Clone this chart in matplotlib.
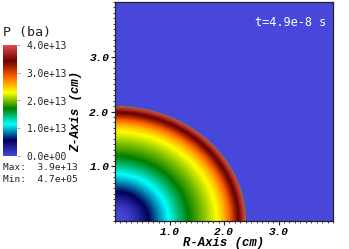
import numpy as np
import matplotlib
matplotlib.use("Agg")
import matplotlib.pyplot as plt
from matplotlib.colors import LinearSegmentedColormap, Normalize
from matplotlib.ticker import MultipleLocator
import matplotlib as mpl

# ---- data ----
# pressure profile along the R-axis (cm -> ba)
r_prof = [0.0, 0.15, 0.28, 0.42, 0.52, 0.62, 0.79, 0.98, 1.15, 1.35, 1.62, 1.87, 2.0, 2.11,
          2.22, 2.29, 2.34, 2.375, 2.39, 2.41, 4.2]
p_prof = [0.0, 0.03e13, 0.09e13, 0.25e13, 0.42e13, 0.57e13, 0.85e13, 1.14e13, 1.42e13, 1.71e13,
          2.0e13, 2.29e13, 2.55e13, 2.86e13, 3.3e13, 3.5e13, 3.75e13, 3.9e13, 3.85e13, 4.7e5, 4.7e5]
r_shock = 2.39   # shock radius along R (cm)
z_shock = 2.09   # shock radius along Z (cm)
cbar_ticks = [0.0, 1.0e13, 2.0e13, 3.0e13, 4.0e13]
axis_ticks = [1.0, 2.0, 3.0]
p_max = 3.9e13
p_min = 4.7e5
time_label = "t=4.9e-8 s"
var_label = "P (ba)"

# VisIt hot_desaturated colour table
hd_colors = [(0.28, 0.28, 0.86), (0.0, 0.0, 0.36), (0.0, 1.0, 1.0), (0.0, 0.5, 0.0),
             (1.0, 1.0, 0.0), (1.0, 0.38, 0.0), (0.42, 0.0, 0.0), (0.88, 0.3, 0.3)]
cmap = LinearSegmentedColormap.from_list("hot_desaturated", hd_colors, N=512)
norm = Normalize(vmin=0.0, vmax=4.0e13)

W, H = 349, 249
fig = plt.figure(figsize=(W / 100, H / 100), dpi=100)

# ---- main plot ----
x0, x1, ytop, ybot = 115, 333, 2, 221
ax = fig.add_axes([x0 / W, 1 - ybot / H, (x1 - x0) / W, (ybot - ytop) / H])
n = 900
g = (np.arange(n) + 0.5) / n * 4.0
R, Z = np.meshgrid(g, g)
s = np.sqrt(R ** 2 + (Z * r_shock / z_shock) ** 2)
P = np.interp(s, r_prof, p_prof)
ax.imshow(P, origin="lower", extent=[0, 4, 0, 4], cmap=cmap, norm=norm,
          aspect="auto", interpolation="bilinear")
ax.set_xlim(0, 4)
ax.set_ylim(0, 4)

tickfont = dict(family="Liberation Mono", weight="bold", style="italic", size=8)
ax.set_xticks(axis_ticks)
ax.set_yticks(axis_ticks)
ax.set_xticklabels([f"{t:.1f}" for t in axis_ticks], fontdict=tickfont)
ax.set_yticklabels([f"{t:.1f}" for t in axis_ticks], fontdict=tickfont)
ax.xaxis.set_minor_locator(MultipleLocator(0.1))
ax.yaxis.set_minor_locator(MultipleLocator(0.1))
ax.tick_params(which="major", direction="out", length=3, width=0.8, color="#222222", pad=1.2)
ax.tick_params(which="minor", direction="out", length=1.6, width=0.6, color="#222222")
for sp in ax.spines.values():
    sp.set_linewidth(0.9)
    sp.set_color("#222222")
ax.set_xlabel("R-Axis (cm)", family="Liberation Mono", weight="bold", style="italic", size=8.8)
ax.set_ylabel("Z-Axis (cm)", family="Liberation Mono", weight="bold", style="italic", size=8.8)
ax.xaxis.set_label_coords(0.498, -0.072)
ax.yaxis.set_label_coords(-0.152, 0.5)

fig.text(326 / W, 1 - 23 / H, time_label, color="white", family="DejaVu Sans Mono",
         size=8.6, ha="right", va="center")

# ---- colorbar ----
cax = fig.add_axes([3 / W, 1 - 156 / H, 14 / W, 111 / H])
cb = mpl.colorbar.ColorbarBase(cax, cmap=cmap, norm=norm, orientation="vertical")
cb.outline.set_visible(False)
cb.set_ticks(cbar_ticks)
cb.set_ticklabels([f"{t:.1e}" for t in cbar_ticks])
cax.tick_params(length=2.5, width=0.6, color="#999999", pad=4.5, labelsize=6.9)
for lab in cax.get_yticklabels():
    lab.set_family("DejaVu Sans Mono")
    lab.set_color("#222222")

fig.text(3 / W, 1 - 32 / H, var_label, family="DejaVu Sans Mono", size=9.6,
         ha="left", va="center", color="#222222")
fig.text(3 / W, 1 - 168 / H, f"Max:  {p_max:.1e}", family="DejaVu Sans Mono", size=6.8,
         ha="left", va="center", color="#222222")
fig.text(3 / W, 1 - 179 / H, f"Min:  {p_min:.1e}", family="DejaVu Sans Mono", size=6.8,
         ha="left", va="center", color="#222222")

fig.savefig("out.png", dpi=100)
